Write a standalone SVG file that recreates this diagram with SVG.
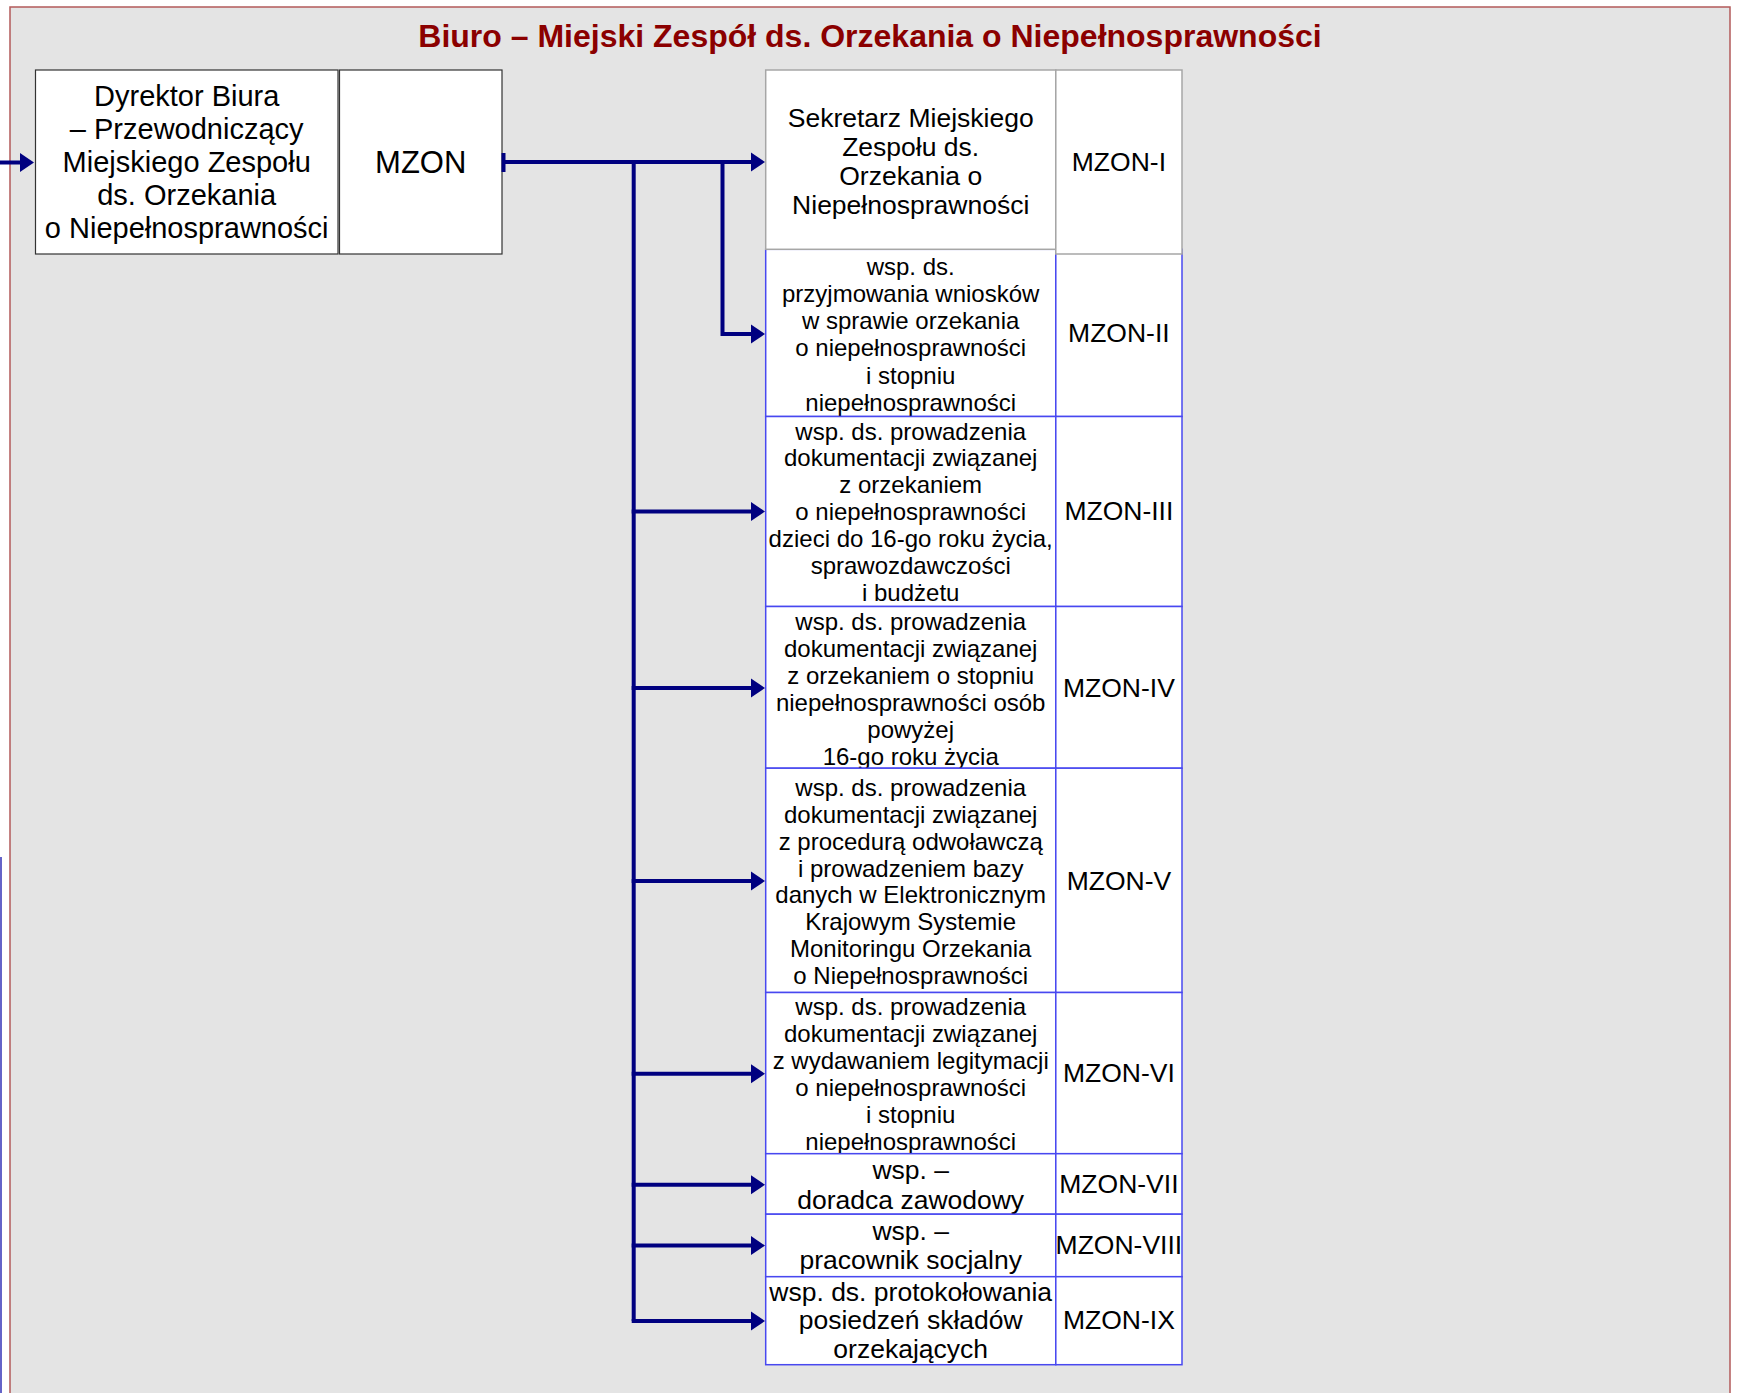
<svg xmlns="http://www.w3.org/2000/svg" width="1737" height="1393" viewBox="0 0 1737 1393">
<defs>
<style>
text{font-family:"Liberation Sans",Arial,sans-serif;fill:#000;text-anchor:middle}
.title{font-size:32px;font-weight:bold;fill:#8b0000}
.t29{font-size:29px}
.t31{font-size:31px}
.t26{font-size:26.5px}
.t24{font-size:24px}
.box{fill:#fff;stroke:#333;stroke-width:1.2}
.gcell{fill:#fff;stroke:#a6a6a6;stroke-width:1.5}
.bcell{fill:#fff;stroke:#4848f0;stroke-width:1.5}
.conn{fill:none;stroke:#000080;stroke-width:4}
</style>
<marker id="arr" markerUnits="userSpaceOnUse" markerWidth="15" markerHeight="20" viewBox="0 0 15 20" refX="1" refY="10" orient="auto">
<path d="M0,0.5 L14,10 L0,19.5 z" fill="#000080"/>
</marker>
</defs>
<rect x="0" y="0" width="1737" height="1393" fill="#fff"/>
<rect x="10" y="7" width="1720" height="1400" fill="#e4e4e4" stroke="#b35a5a" stroke-width="1.5"/>
<line x1="1" y1="857" x2="1" y2="1393" stroke="#6464c8" stroke-width="2"/>
<text class="title" x="870" y="46.5">Biuro – Miejski Zespół ds. Orzekania o Niepełnosprawności</text>

<g id="node-dyrektor">
<rect class="box" x="35.5" y="70" width="302.5" height="184"/>
<text class="t29" x="186.7"><tspan x="186.7" y="106">Dyrektor Biura</tspan><tspan x="186.7" y="139">– Przewodniczący</tspan><tspan x="186.7" y="172">Miejskiego Zespołu</tspan><tspan x="186.7" y="205">ds. Orzekania</tspan><tspan x="186.7" y="238">o Niepełnosprawności</tspan></text>
</g>
<g id="node-mzon">
<rect class="box" x="339.5" y="70" width="162.5" height="184"/>
<text class="t31" x="420.7" y="172.5">MZON</text>
</g>

<g id="node-mzon-2">
<rect class="bcell" x="765.7" y="249.3" width="290.1" height="167.2"/>
<rect class="bcell" x="1055.8" y="249.3" width="126.2" height="167.2"/>
<text class="t24"><tspan x="910.7" y="274.5">wsp. ds.</tspan><tspan x="910.7" y="301.8">przyjmowania wniosków</tspan><tspan x="910.7" y="329.1">w sprawie orzekania</tspan><tspan x="910.7" y="356.4">o niepełnosprawności</tspan><tspan x="910.7" y="383.7">i stopniu</tspan><tspan x="910.7" y="411">niepełnosprawności</tspan></text>
<text class="t26" x="1118.9" y="342.3">MZON-II</text>
</g>
<g id="node-mzon-1">
<rect class="gcell" x="765.7" y="70" width="290.1" height="179.3"/>
<rect class="gcell" x="1055.8" y="70" width="126.2" height="184"/>
<text class="t26"><tspan x="910.7" y="127">Sekretarz Miejskiego</tspan><tspan x="910.7" y="156">Zespołu ds.</tspan><tspan x="910.7" y="185">Orzekania o</tspan><tspan x="910.7" y="214">Niepełnosprawności</tspan></text>
<text class="t26" x="1118.9" y="171.3">MZON-I</text>
</g>
<g id="node-mzon-3">
<rect class="bcell" x="765.7" y="416.5" width="290.1" height="190"/>
<rect class="bcell" x="1055.8" y="416.5" width="126.2" height="190"/>
<text class="t24"><tspan x="910.7" y="439.6">wsp. ds. prowadzenia</tspan><tspan x="910.7" y="466.4">dokumentacji związanej</tspan><tspan x="910.7" y="493.3">z orzekaniem</tspan><tspan x="910.7" y="520.1">o niepełnosprawności</tspan><tspan x="910.7" y="546.9">dzieci do 16-go roku życia,</tspan><tspan x="910.7" y="573.8">sprawozdawczości</tspan><tspan x="910.7" y="600.6">i budżetu</tspan></text>
<text class="t26" x="1118.9" y="519.8">MZON-III</text>
</g>
<g id="node-mzon-4">
<rect class="bcell" x="765.7" y="606.5" width="290.1" height="161.7"/>
<rect class="bcell" x="1055.8" y="606.5" width="126.2" height="161.7"/>
<text class="t24"><tspan x="910.7" y="629.6">wsp. ds. prowadzenia</tspan><tspan x="910.7" y="656.6">dokumentacji związanej</tspan><tspan x="910.7" y="683.6">z orzekaniem o stopniu</tspan><tspan x="910.7" y="710.6">niepełnosprawności osób</tspan><tspan x="910.7" y="737.6">powyżej</tspan><tspan x="910.7" y="764.6">16-go roku życia</tspan></text>
<text class="t26" x="1118.9" y="696.8">MZON-IV</text>
</g>
<g id="node-mzon-5">
<rect class="bcell" x="765.7" y="768.2" width="290.1" height="224.3"/>
<rect class="bcell" x="1055.8" y="768.2" width="126.2" height="224.3"/>
<text class="t24"><tspan x="910.7" y="796.2">wsp. ds. prowadzenia</tspan><tspan x="910.7" y="823">dokumentacji związanej</tspan><tspan x="910.7" y="849.8">z procedurą odwoławczą</tspan><tspan x="910.7" y="876.6">i prowadzeniem bazy</tspan><tspan x="910.7" y="903.4">danych w Elektronicznym</tspan><tspan x="910.7" y="930.2">Krajowym Systemie</tspan><tspan x="910.7" y="957">Monitoringu Orzekania</tspan><tspan x="910.7" y="983.8">o Niepełnosprawności</tspan></text>
<text class="t26" x="1118.9" y="889.8">MZON-V</text>
</g>
<g id="node-mzon-6">
<rect class="bcell" x="765.7" y="992.5" width="290.1" height="161.2"/>
<rect class="bcell" x="1055.8" y="992.5" width="126.2" height="161.2"/>
<text class="t24"><tspan x="910.7" y="1014.6">wsp. ds. prowadzenia</tspan><tspan x="910.7" y="1041.7">dokumentacji związanej</tspan><tspan x="910.7" y="1068.8">z wydawaniem legitymacji</tspan><tspan x="910.7" y="1095.9">o niepełnosprawności</tspan><tspan x="910.7" y="1123">i stopniu</tspan><tspan x="910.7" y="1150.1">niepełnosprawności</tspan></text>
<text class="t26" x="1118.9" y="1082.4">MZON-VI</text>
</g>
<g id="node-mzon-7">
<rect class="bcell" x="765.7" y="1153.7" width="290.1" height="60.5"/>
<rect class="bcell" x="1055.8" y="1153.7" width="126.2" height="60.5"/>
<text class="t26"><tspan x="910.7" y="1179.4">wsp. –</tspan><tspan x="910.7" y="1208.7">doradca zawodowy</tspan></text>
<text class="t26" x="1118.9" y="1193.1">MZON-VII</text>
</g>
<g id="node-mzon-8">
<rect class="bcell" x="765.7" y="1214.2" width="290.1" height="62.5"/>
<rect class="bcell" x="1055.8" y="1214.2" width="126.2" height="62.5"/>
<text class="t26"><tspan x="910.7" y="1239.7">wsp. –</tspan><tspan x="910.7" y="1268.7">pracownik socjalny</tspan></text>
<text class="t26" x="1118.9" y="1253.8">MZON-VIII</text>
</g>
<g id="node-mzon-9">
<rect class="bcell" x="765.7" y="1276.7" width="290.1" height="88"/>
<rect class="bcell" x="1055.8" y="1276.7" width="126.2" height="88"/>
<text class="t26"><tspan x="910.7" y="1301">wsp. ds. protokołowania</tspan><tspan x="910.7" y="1329.4">posiedzeń składów</tspan><tspan x="910.7" y="1357.7">orzekających</tspan></text>
<text class="t26" x="1118.9" y="1329">MZON-IX</text>
</g>

<g id="connectors">
<path class="conn" d="M0,162.5 H21" marker-end="url(#arr)"/>
<rect x="501.5" y="153" width="4" height="19" fill="#000080"/>
<path class="conn" d="M503,162 H752" marker-end="url(#arr)"/>
<path class="conn" d="M722.5,162 V334 H752" marker-end="url(#arr)"/>
<path class="conn" d="M633.7,162 V1321"/>
<path class="conn" d="M631.7,511.5 H752" marker-end="url(#arr)"/>
<path class="conn" d="M631.7,688 H752" marker-end="url(#arr)"/>
<path class="conn" d="M631.7,881 H752" marker-end="url(#arr)"/>
<path class="conn" d="M631.7,1073.8 H752" marker-end="url(#arr)"/>
<path class="conn" d="M631.7,1184.8 H752" marker-end="url(#arr)"/>
<path class="conn" d="M631.7,1245.6 H752" marker-end="url(#arr)"/>
<path class="conn" d="M631.7,1321 H752" marker-end="url(#arr)"/>
</g>
</svg>
